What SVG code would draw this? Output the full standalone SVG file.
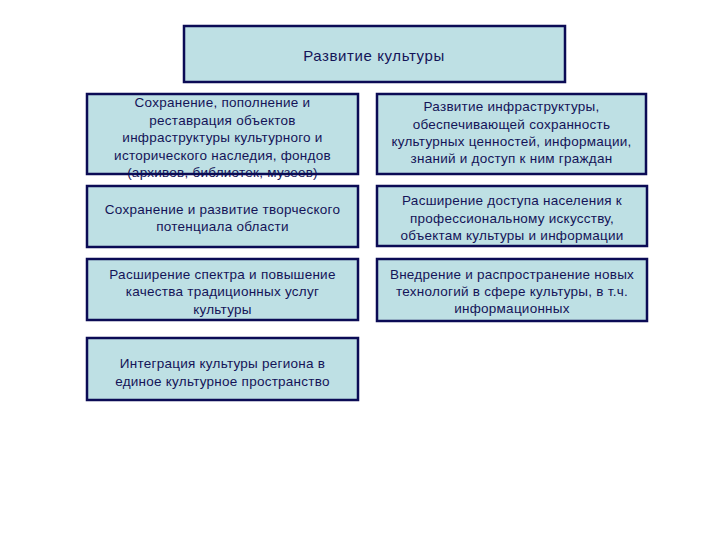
<svg xmlns="http://www.w3.org/2000/svg" width="720" height="540" viewBox="0 0 720 540">
<style>
.box{fill:#bee0e4;stroke:none}
.brd{fill:none;stroke:#0b0b55;stroke-width:2.5}
text{font-family:"Liberation Sans",Arial,sans-serif;font-size:13.5px;letter-spacing:0.25px;fill:#141458;text-anchor:middle}
.t{font-size:15px;letter-spacing:0.6px}
</style>
<rect width="720" height="540" fill="#ffffff"/>
<g id="connectors"></g>
<g id="root">
<rect class="box" x="184" y="26" width="381" height="56"/>
<text class="t" x="374" y="61">Развитие культуры</text>
<rect class="brd" x="184" y="26" width="381" height="56"/>
</g>
<g id="l1">
<rect class="box" x="87" y="94" width="271" height="80"/>
<text x="222.5" y="107">Сохранение, пополнение и</text>
<text x="222.5" y="124.5">реставрация объектов</text>
<text x="222.5" y="142">инфраструктуры культурного и</text>
<text x="222.5" y="159.5">исторического наследия, фондов</text>
<text x="222.5" y="177">(архивов, библиотек, музеев)</text>
<rect class="brd" x="87" y="94" width="271" height="80"/>
</g>
<g id="l2">
<rect class="box" x="87" y="186" width="271" height="61"/>
<text x="222.5" y="214">Сохранение и развитие творческого</text>
<text x="222.5" y="231">потенциала области</text>
<rect class="brd" x="87" y="186" width="271" height="61"/>
</g>
<g id="l3">
<rect class="box" x="87" y="259" width="271" height="61"/>
<text x="222.5" y="278.5">Расширение спектра и повышение</text>
<text x="222.5" y="296">качества традиционных услуг</text>
<text x="222.5" y="313.5">культуры</text>
<rect class="brd" x="87" y="259" width="271" height="61"/>
</g>
<g id="l4">
<rect class="box" x="87" y="338" width="271" height="62"/>
<text x="222.5" y="368">Интеграция культуры региона в</text>
<text x="222.5" y="385.5">единое культурное пространство</text>
<rect class="brd" x="87" y="338" width="271" height="62"/>
</g>
<g id="r1">
<rect class="box" x="377" y="94" width="269" height="80"/>
<text x="511.5" y="111">Развитие инфраструктуры,</text>
<text x="511.5" y="128.5">обеспечивающей сохранность</text>
<text x="511.5" y="146">культурных ценностей, информации,</text>
<text x="511.5" y="163">знаний и доступ к ним граждан</text>
<rect class="brd" x="377" y="94" width="269" height="80"/>
</g>
<g id="r2">
<rect class="box" x="377" y="186" width="270" height="60"/>
<text x="512" y="205">Расширение доступа населения к</text>
<text x="512" y="222.5">профессиональному искусству,</text>
<text x="512" y="239.5">объектам культуры и информации</text>
<rect class="brd" x="377" y="186" width="270" height="60"/>
</g>
<g id="r3">
<rect class="box" x="377" y="259" width="270" height="62"/>
<text x="512" y="279">Внедрение и распространение новых</text>
<text x="512" y="296">технологий в сфере культуры, в т.ч.</text>
<text x="512" y="313">информационных</text>
<rect class="brd" x="377" y="259" width="270" height="62"/>
</g>
</svg>
